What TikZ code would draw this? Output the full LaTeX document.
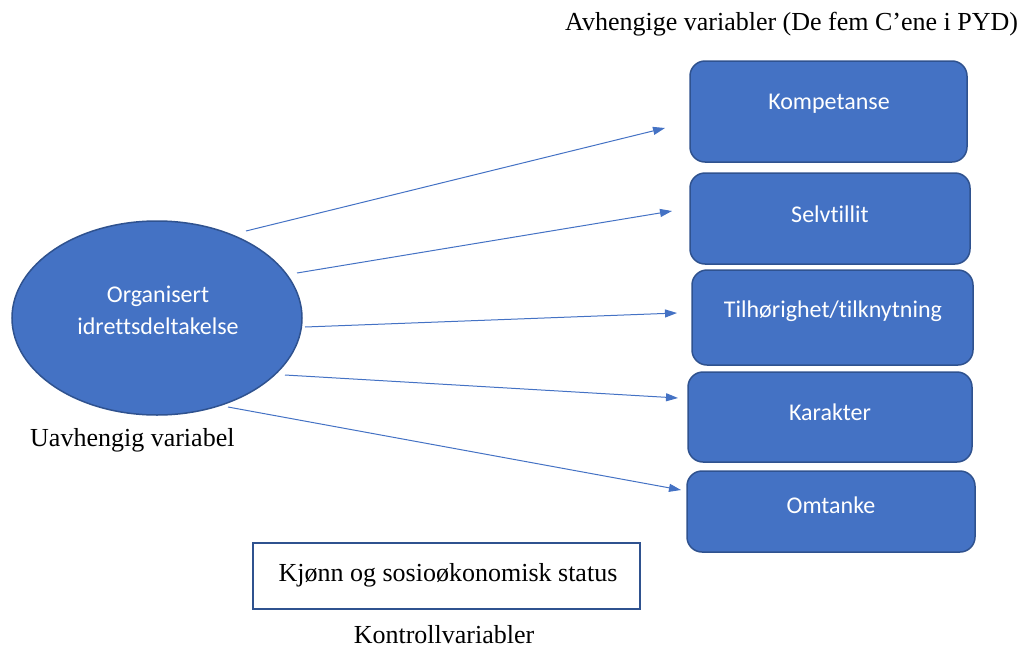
\documentclass[tikz,border=0pt]{standalone}
\usepackage{fontspec}
\setmainfont{Liberation Serif}
\newfontfamily\boxfont[Ligatures=NoCommon]{Carlito}
\usetikzlibrary{arrows.meta,shapes.geometric}
\definecolor{fillblue}{HTML}{4472C4}
\definecolor{edgeblue}{HTML}{2F528F}
\definecolor{arrowblue}{HTML}{4472C4}
\tikzset{
  depbox/.style={draw=edgeblue, line width=1.5pt, fill=fillblue, rounded corners=15pt},
  boxtext/.style={font=\boxfont\fontsize{24}{32}\selectfont, text=white, align=center},
  sertext/.style={font=\fontsize{26}{30}\selectfont, text=black, inner sep=0pt},
  conn/.style={draw=arrowblue, line width=1pt, -{Triangle[length=12pt,width=8pt]}},
}
\begin{document}
\begin{tikzpicture}[x=1pt,y=-1pt]
\useasboundingbox (0,0) rectangle (1028,648);
% dependent variable boxes
\draw[depbox] (690,61) rectangle (967,162);
\draw[depbox] (690,173) rectangle (970,264);
\draw[depbox] (692,270) rectangle (973,365);
\draw[depbox] (688,372) rectangle (972,462);
\draw[depbox] (687,471) rectangle (975,552);
\node[boxtext] (k1) at (829,104) {Kompetanse};
\node[boxtext] (k2) at (830,214) {Selvtillit};
\node[boxtext] (k3) at (833,311) {Tilhørighet/tilknytning};
\node[boxtext] (k4) at (830,412) {Karakter};
\node[boxtext] (k5) at (831,505) {Omtanke};
% independent variable
\node[ellipse, draw=edgeblue, line width=1.5pt, fill=fillblue, minimum width=290pt, minimum height=194pt, inner sep=0pt] (org) at (157,318) {};
\node[boxtext] (orgtext) at (158,310) {Organisert\\idrettsdeltakelse};
% labels
\node[sertext, anchor=west] (uav) at (30,440) {Uavhengig variabel};
\node[sertext, anchor=west] (avh) at (565,24) {Avhengige variabler (De fem C’ene i PYD)};
\node[draw=edgeblue, line width=2pt, minimum width=387pt, minimum height=66pt, inner sep=0pt] (ctrl) at (446.5,576) {};
\node[sertext] (ctrltext) at (448,575) {Kjønn og sosioøkonomisk status};
\node[sertext] (kontroll) at (444,635) {Kontrollvariabler};
% connectors
\coordinate (s1) at (246,231); \coordinate (e1) at (665,128);
\coordinate (s2) at (297,273); \coordinate (e2) at (672,211);
\coordinate (s3) at (305,327); \coordinate (e3) at (677,313);
\coordinate (s4) at (285,375); \coordinate (e4) at (678,398);
\coordinate (s5) at (228,407); \coordinate (e5) at (681,490);
\draw[conn] (s1) -- (e1);
\draw[conn] (s2) -- (e2);
\draw[conn] (s3) -- (e3);
\draw[conn] (s4) -- (e4);
\draw[conn] (s5) -- (e5);
\end{tikzpicture}
\end{document}
